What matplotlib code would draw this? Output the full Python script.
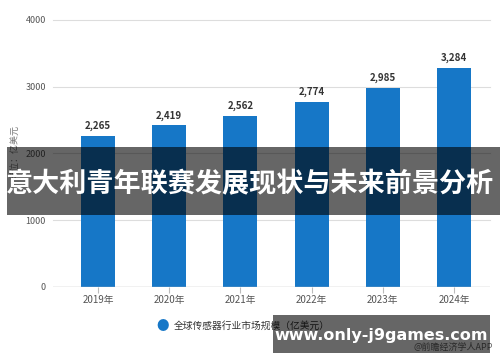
import matplotlib
matplotlib.use('Agg')
import matplotlib.pyplot as plt
from matplotlib.patches import Rectangle
import numpy as np

# 数据
years = ['2019年', '2020年', '2021年', '2022年', '2023年', '2024年']
values = [2265, 2419, 2562, 2774, 2985, 3284]
yticks = [0, 1000, 2000, 3000, 4000]
series_name = '全球传感器行业市场规模（亿美元）'
title = '意大利青年联赛发展现状与未来前景分析'
url_text = 'www.only-j9games.com'

plt.rcParams['font.family'] = ['Noto Sans CJK SC', 'DejaVu Sans']

bar_color = '#1677c7'

fig = plt.figure(figsize=(5, 3.62), dpi=100)
ax = fig.add_axes([0.106, 0.208, 0.874, 0.7368])

x = np.arange(len(years))
ax.bar(x, values, width=0.477, color=bar_color, zorder=3)

# 数值标签
for xi, v in zip(x, values):
    ax.annotate(f'{v:,}', (xi, v), xytext=(0, 3.5), textcoords='offset points',
                ha='center', va='bottom', fontsize=7, fontweight='bold', color='#333333')

ax.set_xlim(-0.632, 5.506)
ax.set_ylim(0, 4000)

# 网格线
for t in yticks[1:]:
    ax.axhline(t, color='#dddddd', lw=0.8, zorder=1, clip_on=False)
ax.axhline(0, color='#bbbbbb', lw=1.0, zorder=4)

for s in ax.spines.values():
    s.set_visible(False)

ax.set_yticks(yticks)
ax.set_yticklabels([str(t) for t in yticks], fontsize=6.5, color='#555555')
ax.tick_params(axis='y', length=0, pad=5)
ax.set_xticks(x)
ax.set_xticklabels(years, fontsize=7, color='#555555')
ax.tick_params(axis='x', length=4, color='#bbbbbb', width=0.8, pad=2)

fig.text(0.03, 0.58, '单位：亿美元', rotation=90, fontsize=6.5, color='#777777',
         ha='center', va='center')

# 图例
fig.text(0.325, 0.099, '●', fontsize=9, color=bar_color, ha='center', va='center')
fig.text(0.348, 0.099, series_name, fontsize=7, color='#333333', ha='left', va='center')

fig.text(0.986, 0.039, '@前瞻经济学人APP', fontsize=6.5, color='#666666', ha='right', va='center')

# 标题遮罩条
fig.patches.append(Rectangle((0.014, 0.406), 0.986, 0.188, transform=fig.transFigure,
                             facecolor='black', alpha=0.6, edgecolor='none', zorder=10))
fig.text(0.5, 0.49, title, fontsize=19.5, fontweight='bold', color='white',
         ha='center', va='center', zorder=11)

# 底部网址条
fig.patches.append(Rectangle((0.546, 0.025), 0.434, 0.105, transform=fig.transFigure,
                             facecolor='black', alpha=0.6, edgecolor='none', zorder=10))
fig.text(0.763, 0.072, url_text, fontsize=11.5, fontweight='bold', color='white',
         family='DejaVu Sans', ha='center', va='center', zorder=11)

fig.savefig('out.png', dpi=100)
